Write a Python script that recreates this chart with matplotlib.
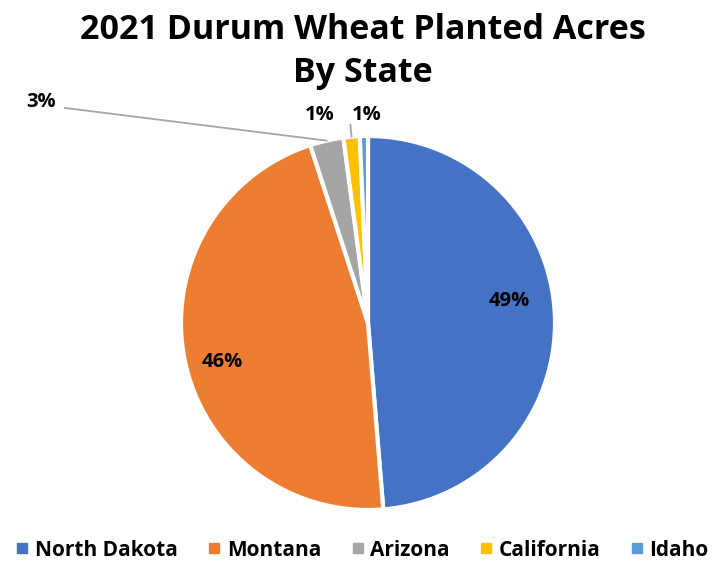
import numpy as np
import matplotlib.pyplot as plt
from matplotlib.lines import Line2D

plt.rcParams['font.family'] = ['Open Sans', 'DejaVu Sans']

# data
states = ['North Dakota', 'Montana', 'Arizona', 'California', 'Idaho']
shares = [48.7, 46.3, 2.9, 1.4, 0.7]
colors = ['#4472C4', '#ED7D31', '#A5A5A5', '#FFC000', '#5B9BD5']

fig = plt.figure(figsize=(7.26, 5.63), dpi=100)
ax = fig.add_axes([181 / 726, 53 / 563, 374 / 726, 374 / 563])

wedges, _ = ax.pie(shares, colors=colors, startangle=90, counterclock=False,
                   radius=1, wedgeprops=dict(edgecolor='white', linewidth=3))
ax.set_xlim(-1, 1)
ax.set_ylim(-1, 1)
ax.set_aspect('equal')
ax.axis('off')


def mid(w):
    a = np.deg2rad((w.theta1 + w.theta2) / 2)
    return np.cos(a), np.sin(a)


lbl = dict(fontsize=14.5, fontweight='bold', color='black', clip_on=False)

# inside labels
ax.text(0.755, 0.12, f'{round(shares[0])}%', ha='center', va='center', **lbl)
ax.text(-0.78, -0.21, f'{round(shares[1])}%', ha='center', va='center', **lbl)

# Arizona - label far out with leader line
cx, cy = mid(wedges[2])
ax.plot([cx * 1.0, -1.62], [cy * 1.0, 1.15], color='#A5A5A5', lw=1.3, clip_on=False)
ax.text(-1.67, 1.18, f'{round(shares[2])}%', ha='right', va='center', **lbl)

# California
cx, cy = mid(wedges[3])
ax.plot([cx * 1.0, cx * 1.07], [cy * 1.0, 1.06], color='#A5A5A5', lw=1.3, clip_on=False)
ax.text(-0.26, 1.11, f'{round(shares[3])}%', ha='center', va='center', **lbl)

# Idaho
ax.text(-0.01, 1.11, f'{round(shares[4])}%', ha='center', va='center', **lbl)

fig.text(0.5, 1 - 30 / 563, '2021 Durum Wheat Planted Acres', ha='center', va='center',
         fontsize=24.5, fontweight='bold')
fig.text(0.5, 1 - 73 / 563, 'By State', ha='center', va='center',
         fontsize=24.5, fontweight='bold')

handles = [Line2D([], [], marker='s', linestyle='none', markersize=7,
                  markerfacecolor=c, markeredgecolor=c) for c in colors]
leg = fig.legend(handles, states, loc='center', bbox_to_anchor=(0.5, 1 - 550 / 563),
                 ncol=5, frameon=False, prop={'size': 15, 'weight': 'bold'},
                 handlelength=0.5, handletextpad=0.35, columnspacing=1.5)

fig.savefig('out.png', dpi=100)
